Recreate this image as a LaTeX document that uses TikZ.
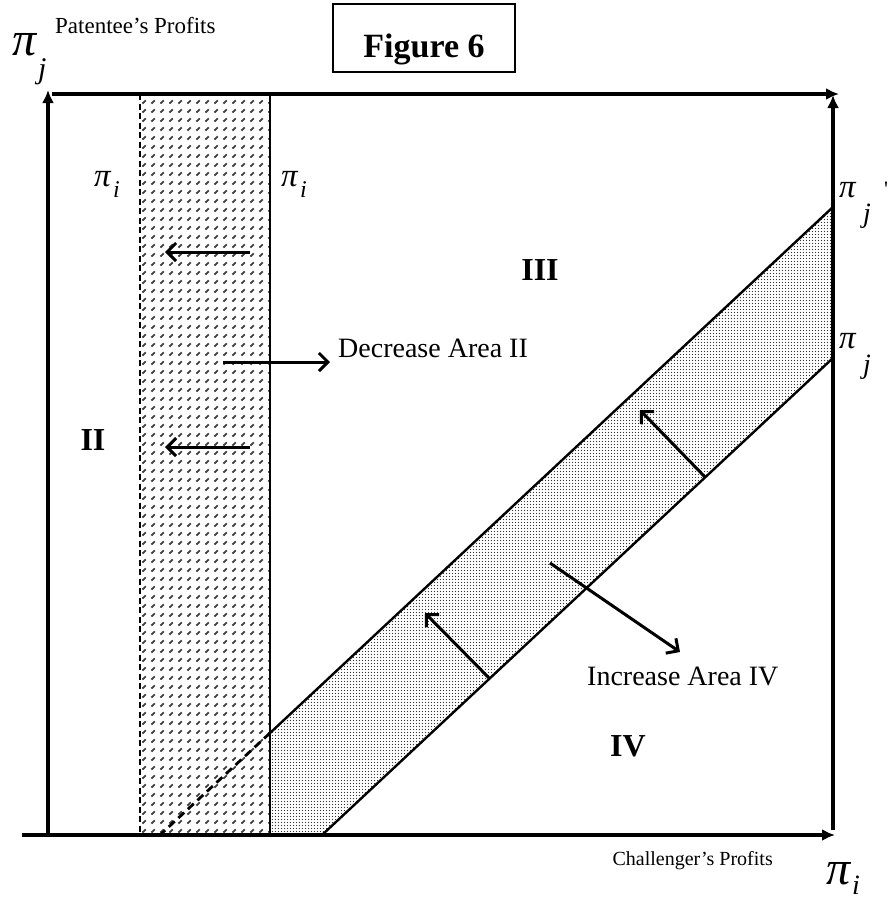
\documentclass[tikz,border=0pt]{standalone}
\usepackage{fontspec}
\setmainfont{Liberation Serif}
\usetikzlibrary{arrows.meta,patterns,patterns.meta}
\pgfdeclarepattern{
  name=slashdots,
  type=uncolored,
  bottom left={\pgfpoint{0pt}{0pt}},
  top right={\pgfpoint{9.4pt}{9.4pt}},
  tile size={\pgfpoint{9.4pt}{9.4pt}},
  code={
    \pgfsetlinewidth{1.9pt}
    \pgfpathmoveto{\pgfpoint{2.6pt}{2.6pt}}
    \pgfpathlineto{\pgfpoint{6pt}{6pt}}
    \pgfusepath{stroke}
  }
}
\pgfdeclarepattern{
  name=finedots,
  type=uncolored,
  bottom left={\pgfpoint{0pt}{0pt}},
  top right={\pgfpoint{3.4pt}{3.4pt}},
  tile size={\pgfpoint{3.4pt}{3.4pt}},
  code={
    \pgfpathcircle{\pgfpoint{1.7pt}{1.7pt}}{0.75pt}
    \pgfusepath{fill}
  }
}
\begin{document}
\begin{tikzpicture}[x=1pt,y=-1pt,
  axis/.style={line width=3.8pt,-{Latex[length=13pt,width=12pt]}},
  mv/.style={line width=3pt,-{Straight Barb[length=9pt,width=18pt,line width=3pt]}},
  bound/.style={line width=2.2pt},
  lbl/.style={inner sep=0pt,font=\fontsize{23}{23}\selectfont},
  big/.style={inner sep=0pt,font=\fontsize{28}{28}\selectfont},
  region/.style={inner sep=0pt,font=\fontsize{32}{32}\selectfont\bfseries},
  bigpi/.style={inner sep=0pt,font=\fontsize{48}{48}\selectfont\itshape},
  smpi/.style={inner sep=0pt,font=\fontsize{33}{33}\selectfont\itshape},
  sub/.style={inner sep=0pt,font=\fontsize{24}{24}\selectfont\itshape},
  bigsub/.style={inner sep=0pt,font=\fontsize{30}{30}\selectfont\itshape}
]
\useasboundingbox (0,0) rectangle (893,900);
% key points
\coordinate (LB) at (48,835);
\coordinate (LT) at (48,90);
\coordinate (BL) at (22,835);
\coordinate (BR) at (835,835);
\coordinate (TL) at (52,94);
\coordinate (TR) at (839,94);
\coordinate (RB) at (833,830);
\coordinate (RT) at (833,95);
\coordinate (DT) at (140,94);
\coordinate (DB) at (140,835);
\coordinate (ST) at (270,94);
\coordinate (SB) at (270,835);
\coordinate (U0) at (160,835);
\coordinate (U1) at (270,733);
\coordinate (U2) at (833,207);
\coordinate (L1) at (322,835);
\coordinate (L2) at (833,358);
% shaded strip
\fill[pattern=slashdots,pattern color=black!75] (DT) rectangle (SB);
% shaded band
\fill[pattern=finedots,pattern color=black!80] (U1) -- (U2) -- (L2) -- (L1) -- (SB) -- cycle;
% boundaries
\draw[bound,dash pattern=on 6pt off 3.5pt] (DT) -- (DB);
\draw[bound] (ST) -- (SB);
\draw[line width=2.4pt] (U1) -- (U2);
\draw[line width=2.8pt,dash pattern=on 8pt off 5pt] (U1) -- (U0);
\draw[line width=2.4pt] (L1) -- (L2);
% movement arrows
\coordinate (a1s) at (250,252); \coordinate (a1e) at (165,252);
\coordinate (a2s) at (250,447); \coordinate (a2e) at (165,447);
\coordinate (a3s) at (223,362); \coordinate (a3e) at (330,362);
\coordinate (a4s) at (705,477); \coordinate (a4e) at (640,410);
\coordinate (a5s) at (490,679); \coordinate (a5e) at (425,613);
\coordinate (a6s) at (550,563); \coordinate (a6e) at (680,652);
\draw[mv] (a1s) -- (a1e);
\draw[mv] (a2s) -- (a2e);
\draw[mv] (a3s) -- (a3e);
\draw[mv] (a4s) -- (a4e);
\draw[mv] (a5s) -- (a5e);
\draw[mv] (a6s) -- (a6e);
% axes
\draw[axis] (LB) -- (LT);
\draw[axis] (BL) -- (BR);
\draw[axis] (TL) -- (TR);
\draw[axis] (RB) -- (RT);
% title box
\node[draw,line width=1.4pt,minimum width=182pt,minimum height=68pt,inner sep=0pt,
      text height=40pt,text depth=2pt,font=\fontsize{34}{34}\selectfont\bfseries] (fig) at (424,38) {Figure 6};
% axis labels
\node[bigpi,anchor=base west] (pj) at (12,55) {π};
\node[bigsub,anchor=base west] (pjs) at (38,78) {j};
\node[lbl,anchor=base west] (pat) at (55,33) {Patentee’s Profits};
\node[lbl,anchor=base east,font=\fontsize{20}{20}\selectfont] (chal) at (773,865) {Challenger’s Profits};
\node[bigpi,anchor=base west] (pi) at (826,884) {π};
\node[bigsub,font=\fontsize{28}{28}\selectfont\itshape,anchor=base west] (pis) at (852,894) {i};
% strip labels
\node[smpi,anchor=base west] (pil) at (94,186) {π};
\node[sub,anchor=base west] (pils) at (113,197) {i};
\node[smpi,anchor=base west] (pir) at (281,186) {π};
\node[sub,anchor=base west] (pirs) at (300,197) {i};
% right labels
\node[smpi,anchor=base west] (pjp) at (839,197) {π};
\node[bigsub,font=\fontsize{28}{28}\selectfont\itshape,anchor=base west] (pjps) at (863,222) {j};
\node[inner sep=0pt,font=\fontsize{22}{22}\selectfont,anchor=base west] (prime) at (884,196) {\textquotesingle};
\node[smpi,anchor=base west] (pjr) at (839,348) {π};
\node[bigsub,font=\fontsize{28}{28}\selectfont\itshape,anchor=base west] (pjrs) at (863,373) {j};
% area labels
\node[big,anchor=base west] (dec) at (338,357) {Decrease Area II};
\node[big,anchor=base west] (inc) at (587,685) {Increase Area IV};
\node[region] (r3) at (540,270) {III};
\node[region] (r2) at (93,440) {II};
\node[region] (r4) at (628,746) {IV};
\end{tikzpicture}
\end{document}
